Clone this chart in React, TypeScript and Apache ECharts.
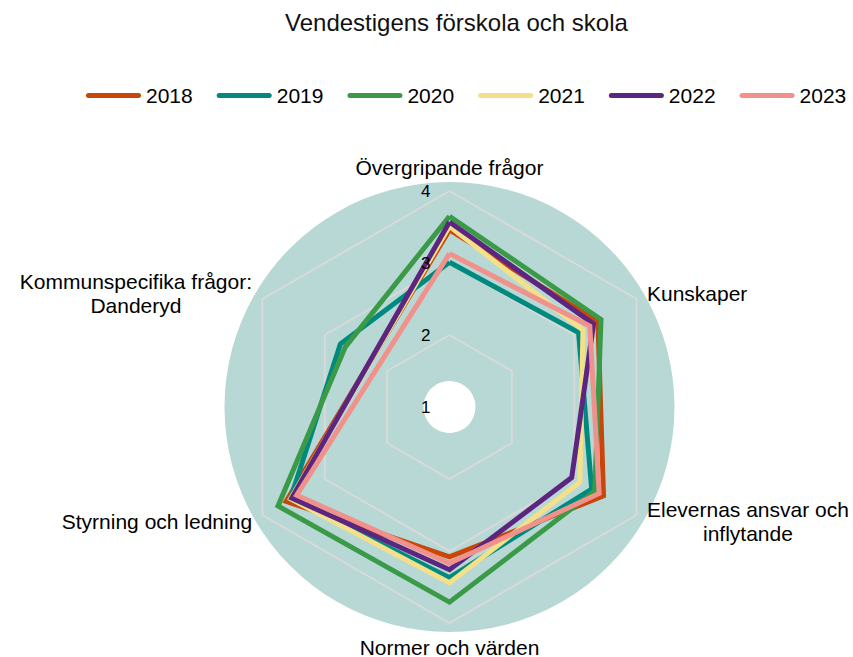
import React, { useEffect, useRef } from 'react';
import * as echarts from 'echarts';

const chartTitle = 'Vendestigens förskola och skola';

// Clockwise from the top
const categories = [
  'Övergripande frågor',
  'Kunskaper',
  'Elevernas ansvar och\ninflytande',
  'Normer och värden',
  'Styrning och ledning',
  'Kommunspecifika frågor:\nDanderyd',
];

const years = ['2018', '2019', '2020', '2021', '2022', '2023'];
const colors = ['#c8460a', '#00897e', '#3a9a47', '#f5e08a', '#5b2580', '#f0928b'];

const v2018 = [3.46, 3.38, 3.47, 3.08, 3.62, null];
const v2019 = [3.01, 3.07, 3.28, 3.37, 3.55, 2.75];
const v2020 = [3.65, 3.43, 3.33, 3.71, 3.75, 2.67];
const v2021 = [3.51, 3.14, 3.09, 3.44, 3.55, null];
const v2022 = [3.57, 3.31, 2.96, 3.26, 3.53, null];
const v2023 = [3.13, 3.25, 3.4, 3.17, 3.45, null];
const seriesValues = [v2018, v2019, v2020, v2021, v2022, v2023];

const scaleMin = 1;
const scaleMax = 4;
const scaleStep = 1;

const FONT = '"Liberation Sans", Arial, sans-serif';

export default function App() {
  const ref = useRef<HTMLDivElement>(null);

  useEffect(() => {
    if (!ref.current) return;
    const chart = echarts.init(ref.current, undefined, { renderer: 'svg' });
    const center = [449.5, 407];
    const radius = 216;
    const n = categories.length;
    const step = 360 / n;

    // radar indicators run counter-clockwise from the top
    const radarIndicators = [categories[0], ...categories.slice(1).reverse()].map((name) => ({
      name,
      min: scaleMin,
      max: scaleMax,
    }));

    const option: any = {
      animation: false,
      backgroundColor: '#ffffff',
      textStyle: { fontFamily: FONT },
      title: {
        text: chartTitle,
        left: 280,
        top: 5,
        textStyle: { fontSize: 24, fontWeight: 'normal', color: '#111', fontFamily: FONT },
      },
      legend: {
        data: years,
        left: 81,
        top: 80,
        width: 800,
        itemWidth: 55,
        itemHeight: 5,
        itemGap: 24,
        icon: 'path://M2.5,0L52.5,0A2.5,2.5,0,0,1,52.5,5L2.5,5A2.5,2.5,0,0,1,2.5,0Z',
        textStyle: { fontSize: 21, color: '#000', fontFamily: FONT },
      },
      graphic: [
        {
          type: 'ring',
          silent: true,
          z: 0,
          shape: { cx: center[0], cy: center[1], r: 225, r0: 26 },
          style: { fill: '#b7d8d4' },
        },
      ],
      radar: {
        center,
        radius,
        startAngle: 90,
        shape: 'polygon',
        splitNumber: 3,
        indicator: radarIndicators,
        axisNameGap: 12,
        axisName: {
          color: '#000',
          fontSize: 21,
          fontFamily: FONT,
          formatter: (name: string) =>
            name
              .split('\n')
              .map((l) => `{c|${l}}`)
              .join('\n'),
          rich: {
            c: { align: 'center', fontSize: 21, lineHeight: 24, color: '#000', fontFamily: FONT },
          },
        },
        axisLine: { show: false },
        axisTick: { show: false },
        axisLabel: { show: false },
        splitArea: { show: false },
        splitLine: { lineStyle: { color: '#d9d9d9', width: 2 } },
        z: 2,
      },
      polar: { center, radius, z: 3 },
      angleAxis: {
        type: 'value',
        min: 0,
        max: 360,
        interval: step,
        startAngle: 90,
        clockwise: true,
        axisLine: { show: false },
        axisTick: { show: false },
        axisLabel: { show: false },
        splitLine: { show: false },
        splitArea: { show: false },
      },
      radiusAxis: {
        type: 'value',
        min: scaleMin,
        max: scaleMax,
        interval: scaleStep,
        axisLine: { show: false },
        axisTick: { show: false },
        splitLine: { show: false },
        axisLabel: { fontSize: 17, color: '#000', margin: 19, fontFamily: FONT },
        z: 5,
      },
      series: years.map((y, i) => {
        const vals = seriesValues[i];
        const pts = vals.map((v, j) => [v, j * step]);
        pts.push([vals[0], n * step]);
        return {
          type: 'line',
          name: y,
          coordinateSystem: 'polar',
          data: pts,
          connectNulls: true,
          clip: false,
          symbol: 'none',
          showSymbol: false,
          color: colors[i],
          lineStyle: { width: 5, color: colors[i], join: 'miter', cap: 'butt' },
          itemStyle: { color: colors[i] },
          z: 3,
        };
      }),
    };

    chart.setOption(option);
    return () => chart.dispose();
  }, []);

  return (
    <div
      ref={ref}
      style={{ position: 'absolute', left: 0, top: 0, width: 853, height: 657 }}
    />
  );
}
